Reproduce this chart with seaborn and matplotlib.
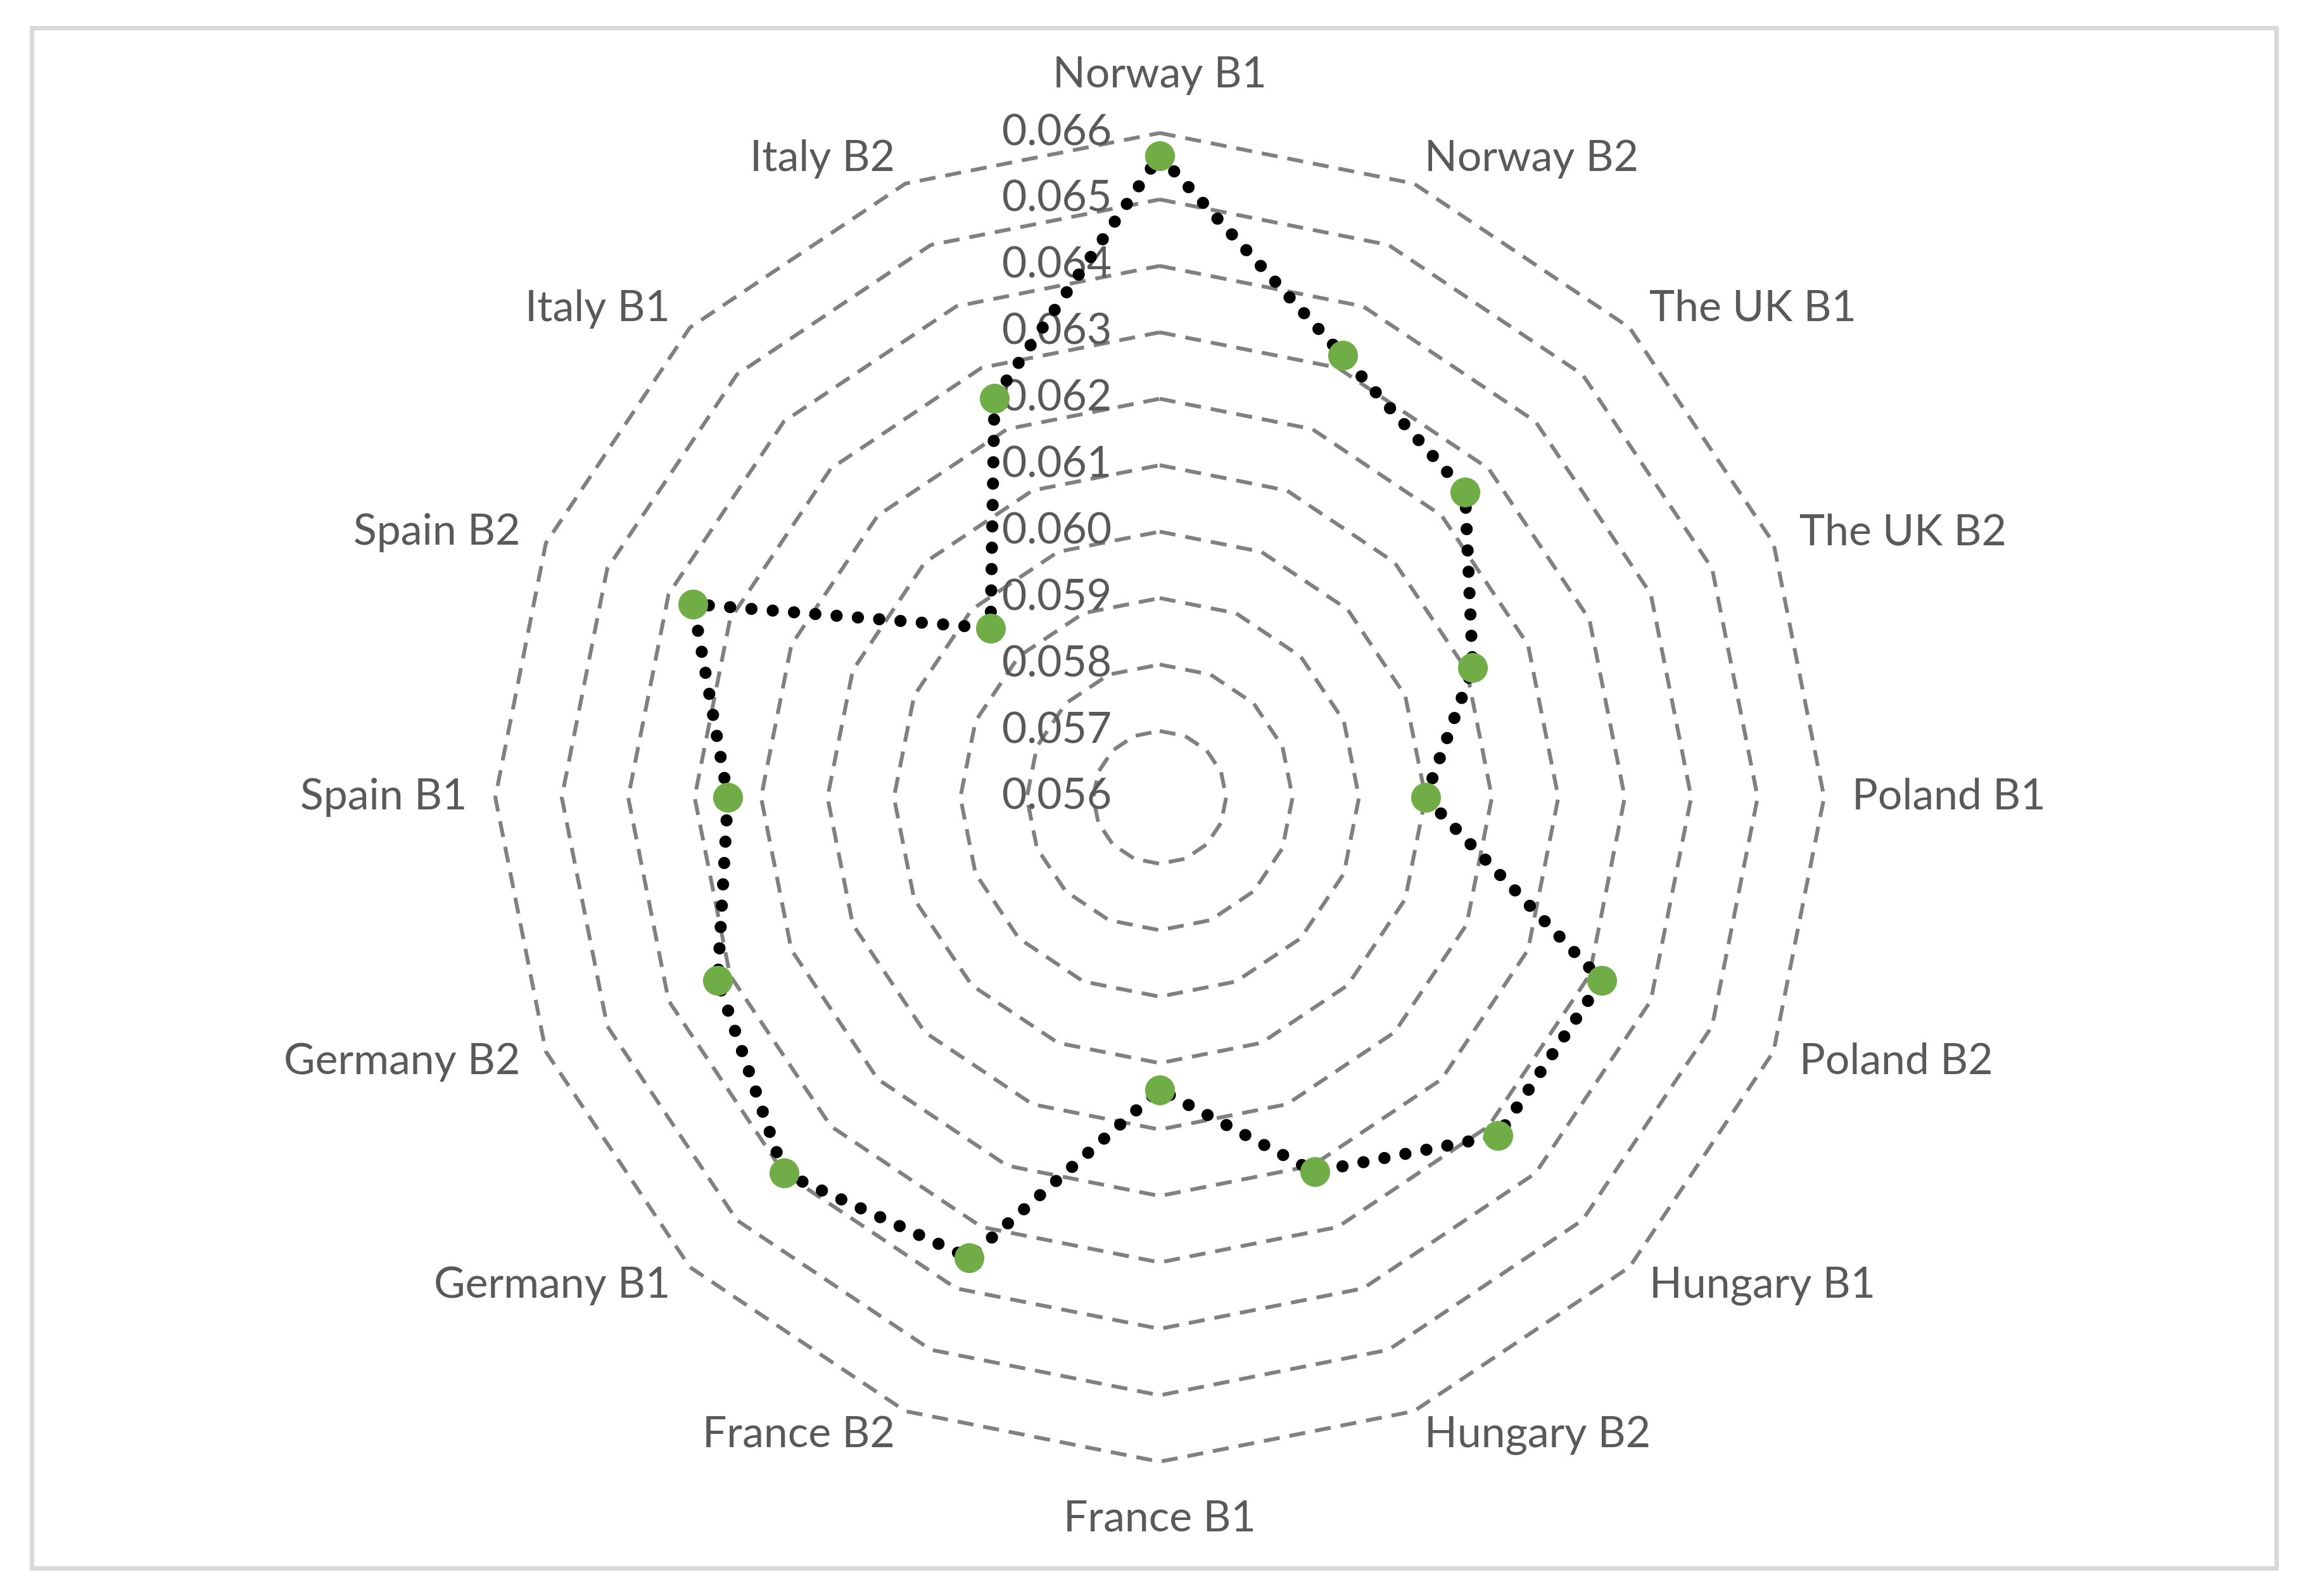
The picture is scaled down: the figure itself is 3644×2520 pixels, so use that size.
import numpy as np
import seaborn as sns
import matplotlib.pyplot as plt
from matplotlib.patches import Rectangle
from matplotlib.transforms import offset_copy

# data
categories = ['Norway B1', 'Norway B2', 'The UK B1', 'The UK B2', 'Poland B1', 'Poland B2',
              'Hungary B1', 'Hungary B2', 'France B1', 'France B2', 'Germany B1', 'Germany B2',
              'Spain B1', 'Spain B2', 'Italy B1', 'Italy B2']
values = [0.06566, 0.0632, 0.0625, 0.0611, 0.0600, 0.0632, 0.0632, 0.0621,
          0.0604, 0.0635, 0.0640, 0.0632, 0.0625, 0.0636, 0.0596, 0.0625]
ring_levels = [0.057, 0.058, 0.059, 0.060, 0.061, 0.062, 0.063, 0.064, 0.065, 0.066]
tick_levels = [0.056, 0.057, 0.058, 0.059, 0.060, 0.061, 0.062, 0.063, 0.064, 0.065, 0.066]
rmin, rmax = 0.056, 0.066

sns.set_style('white')
plt.rcParams['font.family'] = ['Lato', 'DejaVu Sans']
txt_color = '#595959'

W, H, DPI = 3644, 2520, 300
fig = plt.figure(figsize=(W / DPI, H / DPI), dpi=DPI)

# border of chart area
fig.patches.append(Rectangle((50 / W, 44 / H), (W - 100) / W, (H - 88) / H,
                             transform=fig.transFigure, fill=False,
                             edgecolor='#d9d9d9', linewidth=1.7))

cx, cy, R = 1831, 1259, 1049
ax = fig.add_axes([(cx - R) / W, (H - cy - R) / H, 2 * R / W, 2 * R / H], projection='polar')
ax.set_theta_zero_location('N')
ax.set_theta_direction(-1)
ax.set_ylim(rmin, rmax)
ax.grid(False)
ax.set_xticks([])
ax.set_yticks([])
ax.spines['polar'].set_visible(False)
ax.patch.set_alpha(0)

n = len(categories)
theta = np.arange(n) * 2 * np.pi / n
theta_c = np.append(theta, theta[0])

# polygon gridlines
for lvl in ring_levels:
    ax.plot(theta_c, [lvl] * (n + 1), color='#808080', linewidth=1.45,
            linestyle=(0, (4.2, 2.6)), zorder=1, clip_on=False)

# series
vals_c = np.append(values, values[0])
ax.plot(theta_c, vals_c, color='black', linewidth=4.6, linestyle=(0, (0.01, 1.75)),
        dash_capstyle='round', zorder=3, clip_on=False)
ax.plot(theta, values, linestyle='none', marker='o', markersize=11.3,
        color='#70ad47', markeredgewidth=0, zorder=4, clip_on=False)

# radial tick labels
off = offset_copy(ax.transData, fig=fig, x=-76, y=0, units='dots')
for lvl in tick_levels:
    ax.text(0, lvl, f'{lvl:.3f}', transform=off, ha='right', va='center',
            fontsize=16.3, color=txt_color, zorder=2)

# category labels: outer vertex + offset in pixels
for t, lab in zip(theta, categories):
    s, c = np.sin(t), np.cos(t)
    if abs(s) < 0.1:
        ha, dx, dy = 'center', 0, 91 * np.sign(c)
    else:
        ha = 'left' if s > 0 else 'right'
        dx, dy = 44 * s, 42 * c
    tr = offset_copy(ax.transData, fig=fig, x=dx, y=dy, units='dots')
    ax.text(t, rmax, lab, transform=tr, ha=ha, va='center', fontsize=16.3, color=txt_color)

fig.savefig('out.png', dpi=DPI, facecolor='white')
